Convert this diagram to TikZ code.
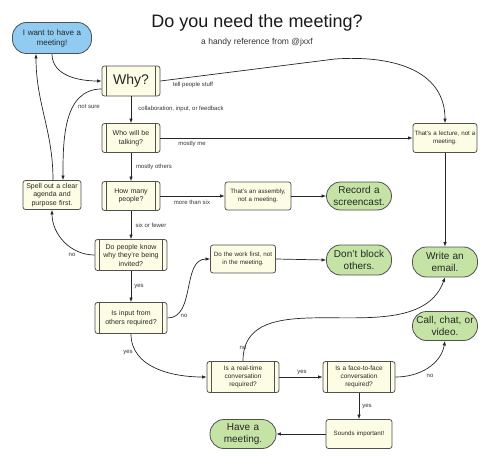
\documentclass[tikz,border=0pt]{standalone}
\usepackage{fontspec}
\setmainfont{Liberation Sans}
\usetikzlibrary{arrows.meta}
\definecolor{cream}{HTML}{FDFDE6}
\definecolor{edge}{HTML}{505050}
\definecolor{skyb}{HTML}{90CBF2}
\definecolor{leaf}{HTML}{C5E3A5}
\definecolor{lbl}{HTML}{333333}
\tikzset{
  base/.style={draw=edge, line width=0.8pt, align=center, inner sep=0pt, text=black!85},
  proc/.style={base, fill=cream, rounded corners=2.5pt, font=\fontsize{7}{8.5}\selectfont},
  pproc/.style={proc, path picture={
      \draw[edge, line width=0.6pt] ([xshift=4.5pt]path picture bounding box.north west) -- ([xshift=4.5pt]path picture bounding box.south west);
      \draw[edge, line width=0.6pt] ([xshift=-4.5pt]path picture bounding box.north east) -- ([xshift=-4.5pt]path picture bounding box.south east);}},
  small/.style={font=\fontsize{6.2}{7.8}\selectfont},
  mid/.style={font=\fontsize{6.5}{8}\selectfont},
  pill/.style={base, rounded corners=14pt, font=\fontsize{10}{11.5}\selectfont},
  endpill/.style={pill, fill=leaf},
  conn/.style={draw=black!85, line width=0.7pt, -{Latex[length=4.5pt,width=3.5pt]}},
  elabel/.style={font=\fontsize{6}{7}\selectfont, text=lbl, inner sep=0pt}
}
\begin{document}
\begin{tikzpicture}[x=1pt,y=-1pt]
\useasboundingbox (0,0) rectangle (486,473);
% title
\node[font=\fontsize{18}{20}\selectfont, text=black!90] (title) at (257,23) {Do you need the meeting?};
\node[font=\fontsize{8.5}{10}\selectfont, text=black!80] (subtitle) at (257,42) {a handy reference from @jxxf};
% nodes
\node[pill, fill=skyb, minimum width=79pt, minimum height=31pt, text width=76pt, font=\fontsize{8}{10}\selectfont] (start) at (52,38) {I want to have a\\meeting!};
\node[pproc, minimum width=58pt, minimum height=30pt, text width=56pt, font=\fontsize{14}{16}\selectfont] (why) at (131,81) {Why?};
\node[pproc, minimum width=58pt, minimum height=29pt, text width=56pt] (who) at (131,138) {Who will be\\talking?};
\node[pproc, minimum width=58pt, minimum height=29pt, text width=56pt] (howmany) at (131,196) {How many\\people?};
\node[pproc, minimum width=72pt, minimum height=31pt, text width=70pt] (know) at (131,255) {Do people know\\why they're being\\invited?};
\node[pproc, minimum width=72pt, minimum height=31pt, text width=70pt] (input) at (131,318) {Is input from\\others required?};
\node[proc, minimum width=58pt, minimum height=29pt, text width=57pt] (spell) at (52,195) {Spell out a clear\\agenda and\\purpose first.};
\node[proc, small, minimum width=64pt, minimum height=29pt, text width=64pt] (lecture) at (445,138) {That's a lecture, not a\\meeting.};
\node[proc, small, minimum width=66pt, minimum height=28pt, text width=64pt] (assembly) at (258,196) {That's an assembly,\\not a meeting.};
\node[endpill, minimum width=65pt, minimum height=28pt, text width=63pt] (record) at (359,196) {Record a\\screencast.};
\node[proc, small, minimum width=65pt, minimum height=28pt, text width=65pt] (dowork) at (243,259) {Do the work first, not\\in the meeting.};
\node[endpill, minimum width=65pt, minimum height=30pt, text width=63pt] (block) at (359,260) {Don't block\\others.};
\node[endpill, minimum width=65pt, minimum height=30pt, text width=63pt] (email) at (445,262) {Write an\\email.};
\node[pproc, mid, minimum width=72pt, minimum height=31pt, text width=70pt] (realtime) at (243,377) {Is a real-time\\conversation\\required?};
\node[pproc, mid, minimum width=72pt, minimum height=31pt, text width=70pt] (face) at (359,377) {Is a face-to-face\\conversation\\required?};
\node[endpill, minimum width=65pt, minimum height=29pt, text width=63pt] (call) at (445,326) {Call, chat, or\\video.};
\node[proc, small, minimum width=66pt, minimum height=29pt, text width=64pt] (sounds) at (359,434) {Sounds important!};
\node[endpill, minimum width=66pt, minimum height=29pt, text width=64pt] (have) at (243,434) {Have a\\meeting.};
\coordinate (bend) at (335,59);
% connectors
\draw[conn] (start.south) to[out=-90,in=180] (why.west);
\draw[conn] (why.east) -- (bend) to[out=4,in=90,looseness=1.1] (lecture.north);
\draw[conn] (why.south) -- (who.north);
\draw[conn] ([yshift=-8pt]why.west) to[out=180,in=90] ([xshift=11pt]spell.north);
\draw[conn] ([xshift=1pt]spell.north) to[out=90,in=-90] ([xshift=-16pt]start.south);
\draw[conn] (who.east) -- (lecture.west);
\draw[conn] (who.south) -- (howmany.north);
\draw[conn] (howmany.east) -- (assembly.west);
\draw[conn] (assembly.east) -- (record.west);
\draw[conn] (howmany.south) -- (know.north);
\draw[conn] (know.west) to[out=180,in=-90] (spell.south);
\draw[conn] (know.south) -- (input.north);
\draw[conn] (input.east) to[out=0,in=180] (dowork.west);
\draw[conn] (dowork.east) -- (block.west);
\draw[conn] (lecture.south) -- (email.north);
\draw[conn] (input.south) to[out=-90,in=180] (realtime.west);
\draw[conn] (realtime.north) to[out=90,in=-110] (email.south);
\draw[conn] (realtime.east) -- (face.west);
\draw[conn] (face.east) to[out=0,in=-100] (call.south);
\draw[conn] (face.south) -- (sounds.north);
\draw[conn] (sounds.west) -- (have.east);
% labels
\node[elabel] (l1) at (193,85) {tell people stuff};
\node[elabel] (l2) at (181,109) {collaboration, input, or feedback};
\node[elabel] (l3) at (89,107) {not sure};
\node[elabel] (l4) at (192,144) {mostly me};
\node[elabel] (l5) at (154,167) {mostly others};
\node[elabel] (l6) at (192,202) {more than six};
\node[elabel] (l7) at (151,225) {six or fewer};
\node[elabel] (l8) at (72,255) {no};
\node[elabel] (l9) at (139,287) {yes};
\node[elabel] (l10) at (184,316) {no};
\node[elabel] (l11) at (128,353) {yes};
\node[elabel] (l12) at (243,348) {no};
\node[elabel] (l13) at (302,373) {yes};
\node[elabel] (l14) at (430,376) {no};
\node[elabel] (l15) at (367,407) {yes};
\end{tikzpicture}
\end{document}
